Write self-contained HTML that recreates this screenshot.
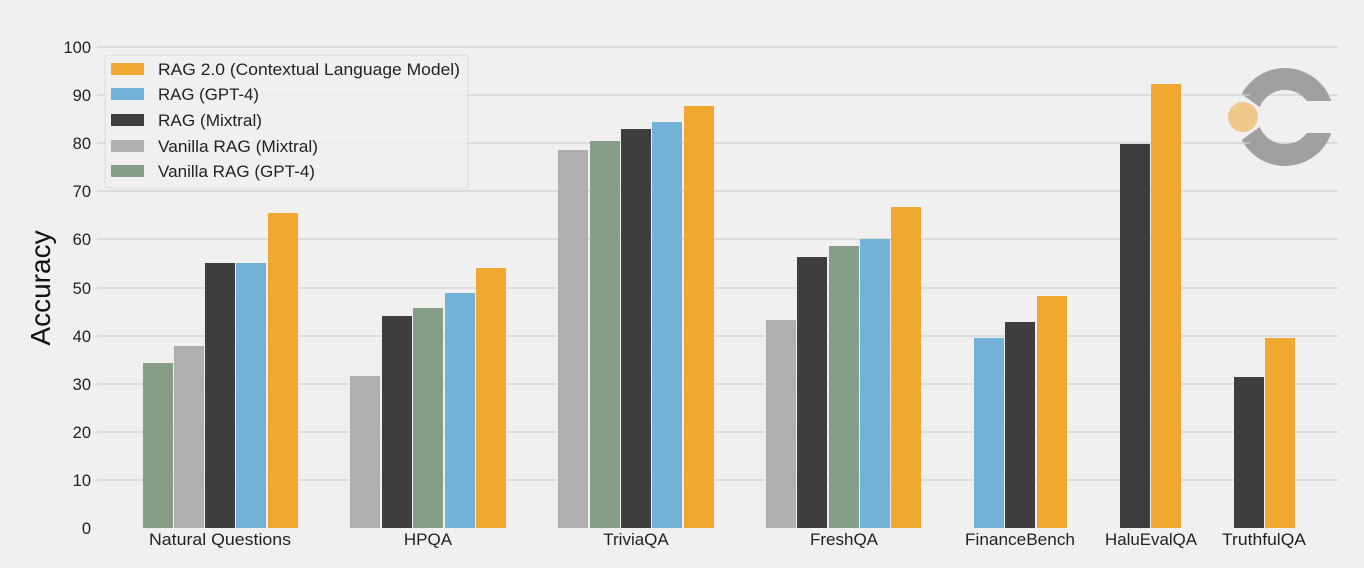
<!DOCTYPE html>
<html><head><meta charset="utf-8"><style>
html,body{margin:0;padding:0;background:#f0f0f0;}
svg{display:block;font-family:"Liberation Sans",sans-serif;}
</style></head><body>
<svg width="1364" height="568" viewBox="0 0 1364 568">
<rect width="1364" height="568" fill="#f0f0f0"/>
<g stroke="#cfcfcf" stroke-width="1.3">
<line x1="97" x2="1338" y1="47" y2="47"/><line x1="97" x2="1338" y1="95" y2="95"/>
<line x1="97" x2="1338" y1="143" y2="143"/><line x1="97" x2="1338" y1="191" y2="191"/>
<line x1="97" x2="1338" y1="239" y2="239"/><line x1="97" x2="1338" y1="288" y2="288"/>
<line x1="97" x2="1338" y1="336" y2="336"/><line x1="97" x2="1338" y1="384" y2="384"/>
<line x1="97" x2="1338" y1="432" y2="432"/><line x1="97" x2="1338" y1="480" y2="480"/>
</g>
<g font-size="16.5" fill="#222" text-anchor="end">
<text x="91" y="53">100</text><text x="91" y="101">90</text><text x="91" y="149">80</text>
<text x="91" y="197">70</text><text x="91" y="245">60</text><text x="91" y="294">50</text>
<text x="91" y="342">40</text><text x="91" y="390">30</text><text x="91" y="438">20</text>
<text x="91" y="486">10</text><text x="91" y="534">0</text>
</g>
<text transform="translate(50,288) rotate(-90)" font-size="28" fill="#111" text-anchor="middle">Accuracy</text>
<g>
<circle cx="1285" cy="117" r="38" fill="none" stroke="#a0a0a0" stroke-width="22"/>
<rect x="1305" y="101" width="40" height="32" fill="#f0f0f0"/>
<polygon points="1225,82 1261,108 1261,126 1225,152" fill="#f0f0f0"/>
<g stroke="#cfcfcf" stroke-width="1.3"><line x1="1222" x2="1250" y1="95" y2="95"/><line x1="1222" x2="1250" y1="143" y2="143"/></g>
<circle cx="1243" cy="117" r="15" fill="#f0c88a"/>
</g>
<g>
<rect x="143" y="363" width="30" height="165" fill="#869e86"/>
<rect x="174" y="346" width="30" height="182" fill="#b0aeb0"/>
<rect x="205" y="263" width="30" height="265" fill="#3e3e3e"/>
<rect x="236" y="263" width="30" height="265" fill="#72b1d8"/>
<rect x="268" y="213" width="30" height="315" fill="#f0a830"/>

<rect x="350" y="376" width="30" height="152" fill="#b0aeb0"/>
<rect x="382" y="316" width="30" height="212" fill="#3e3e3e"/>
<rect x="413" y="308" width="30" height="220" fill="#869e86"/>
<rect x="445" y="293" width="30" height="235" fill="#72b1d8"/>
<rect x="476" y="268" width="30" height="260" fill="#f0a830"/>

<rect x="558" y="150" width="30" height="378" fill="#b0aeb0"/>
<rect x="590" y="141" width="30" height="387" fill="#869e86"/>
<rect x="621" y="129" width="30" height="399" fill="#3e3e3e"/>
<rect x="652" y="122" width="30" height="406" fill="#72b1d8"/>
<rect x="684" y="106" width="30" height="422" fill="#f0a830"/>

<rect x="766" y="320" width="30" height="208" fill="#b0aeb0"/>
<rect x="797" y="257" width="30" height="271" fill="#3e3e3e"/>
<rect x="829" y="246" width="30" height="282" fill="#869e86"/>
<rect x="860" y="239" width="30" height="289" fill="#72b1d8"/>
<rect x="891" y="207" width="30" height="321" fill="#f0a830"/>

<rect x="974" y="338" width="30" height="190" fill="#72b1d8"/>
<rect x="1005" y="322" width="30" height="206" fill="#3e3e3e"/>
<rect x="1037" y="296" width="30" height="232" fill="#f0a830"/>

<rect x="1120" y="144" width="30" height="384" fill="#3e3e3e"/>
<rect x="1151" y="84" width="30" height="444" fill="#f0a830"/>

<rect x="1234" y="377" width="30" height="151" fill="#3e3e3e"/>
<rect x="1265" y="338" width="30" height="190" fill="#f0a830"/>
</g>
<g font-size="17" fill="#222" text-anchor="middle">
<text x="220" y="545" textLength="142" lengthAdjust="spacingAndGlyphs">Natural Questions</text>
<text x="428" y="545">HPQA</text>
<text x="636" y="545">TriviaQA</text>
<text x="844" y="545">FreshQA</text>
<text x="1020" y="545" textLength="110" lengthAdjust="spacingAndGlyphs">FinanceBench</text>
<text x="1151" y="545" textLength="92" lengthAdjust="spacingAndGlyphs">HaluEvalQA</text>
<text x="1264" y="545" textLength="84" lengthAdjust="spacingAndGlyphs">TruthfulQA</text>
</g>
<rect x="105" y="55" width="363" height="133" rx="3" fill="#f0f0f0" fill-opacity="0.85" stroke="#dcdcdc"/>
<g font-size="17" fill="#222">
<rect x="111" y="63" width="33" height="12" fill="#f0a830"/><text x="158" y="75" textLength="302" lengthAdjust="spacingAndGlyphs">RAG 2.0 (Contextual Language Model)</text>
<rect x="111" y="88" width="33" height="12" fill="#72b1d8"/><text x="158" y="100" textLength="101" lengthAdjust="spacingAndGlyphs">RAG (GPT-4)</text>
<rect x="111" y="114" width="33" height="12" fill="#3e3e3e"/><text x="158" y="126" textLength="104" lengthAdjust="spacingAndGlyphs">RAG (Mixtral)</text>
<rect x="111" y="140" width="33" height="12" fill="#b0aeb0"/><text x="158" y="152" textLength="160" lengthAdjust="spacingAndGlyphs">Vanilla RAG (Mixtral)</text>
<rect x="111" y="165" width="33" height="12" fill="#869e86"/><text x="158" y="177" textLength="157" lengthAdjust="spacingAndGlyphs">Vanilla RAG (GPT-4)</text>
</g>
</svg>
</body></html>
